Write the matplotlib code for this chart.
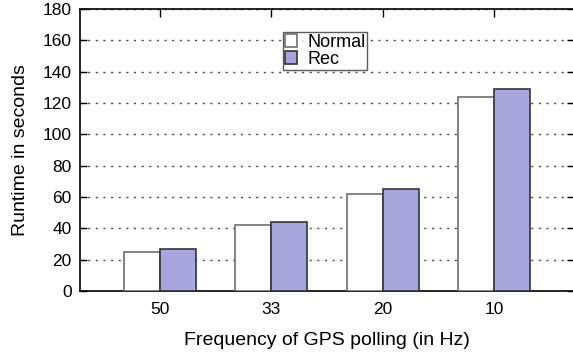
import numpy as np
import matplotlib
matplotlib.use("Agg")
import matplotlib.pyplot as plt

plt.rcParams['font.family'] = ['Liberation Sans', 'DejaVu Sans']

# data
freqs = ["50", "33", "20", "10"]
normal = [25, 42, 62, 124]
rec = [27, 44, 65, 129]

x = np.arange(len(freqs))
w = 0.324

fig = plt.figure(figsize=(5.73, 3.54), dpi=100)
ax = fig.add_axes([80/573, 1 - 291/354, 1 - 80/573 + 0.002, (291 - 9)/354])

ax.bar(x - w/2, normal, w, color="white", edgecolor="#6e6e6e", linewidth=1.2, label="Normal", zorder=3)
ax.bar(x + w/2, rec, w, color="#a6a6dc", edgecolor="#333333", linewidth=1.2, label="Rec", zorder=3)

ax.set_xlim(-0.72, 3.72)
ax.set_ylim(0, 180)
ax.set_yticks(range(0, 181, 20))
ax.set_xticks(x)
ax.set_xticklabels(freqs)
ax.tick_params(axis='y', direction='in', length=5, right=True, labelsize=12.5, width=1, pad=6)
ax.tick_params(axis='x', direction='in', length=6, top=True, bottom=False, labelsize=12.5, width=1, pad=8)
ax.set_axisbelow(True)
ax.grid(axis='y', linestyle=(0, (1.5, 4)), color="#444444", linewidth=1)
for s in ax.spines.values():
    s.set_linewidth(1.2)

ax.set_xlabel("Frequency of GPS polling (in Hz)", fontsize=14, labelpad=11)
ax.set_ylabel("Runtime in seconds", fontsize=14, labelpad=10)

leg = ax.legend(loc="upper left", bbox_to_anchor=(283/573, 1 - 32/354), bbox_transform=fig.transFigure,
                fontsize=13, frameon=True, fancybox=False, borderpad=0.1, labelspacing=0,
                handlelength=0.7, handleheight=0.7, handletextpad=0.55, borderaxespad=0)
leg.get_frame().set_edgecolor("#333333")
leg.get_frame().set_linewidth(1)

fig.savefig("out.png", dpi=100)
